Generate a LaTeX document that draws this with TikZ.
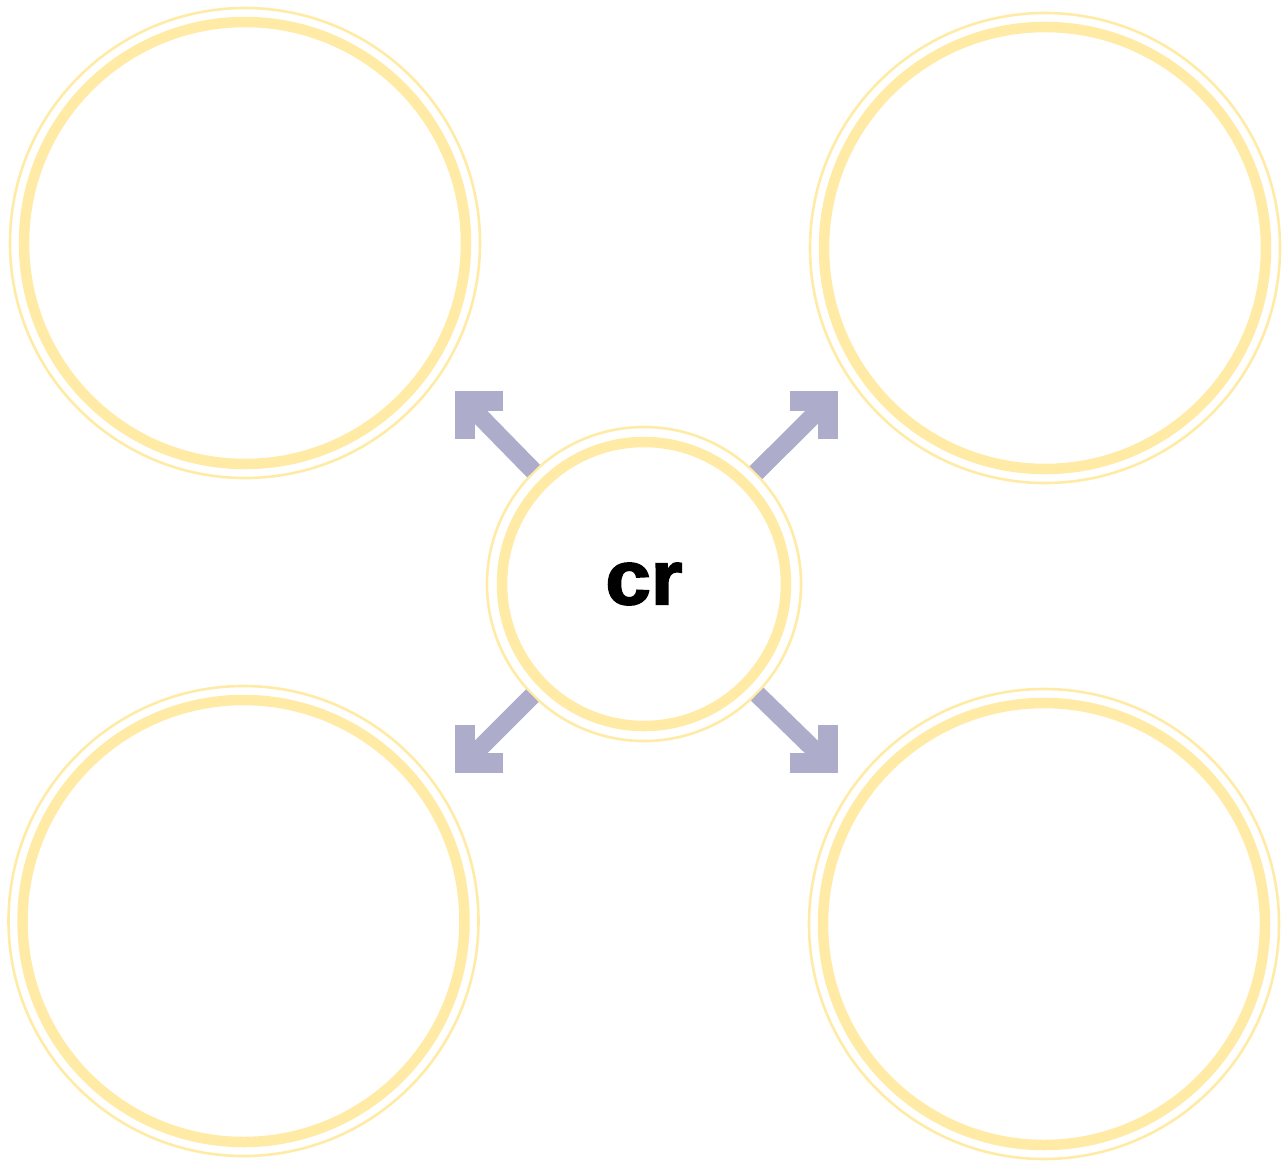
\documentclass[tikz,border=0pt]{standalone}
\usepackage{fontspec}
\setmainfont{Liberation Sans}
\newfontfamily\heavyfont[UprightFont={* Bold}, FakeBold=2.2]{Liberation Sans}
\usetikzlibrary{calc}
\definecolor{ringyellow}{HTML}{FFEBA6}
\definecolor{arrowlav}{HTML}{ADACCB}
\begin{document}
\begin{tikzpicture}[x=1pt,y=-1pt,
  bigring/.style={circle, draw=ringyellow, line width=10.5pt, fill=white, inner sep=0pt, minimum size=442pt},
  smallring/.style={circle, draw=ringyellow, line width=10.5pt, fill=white, inner sep=0pt, minimum size=284pt, outer sep=16pt},
  thinring/.style={draw=ringyellow, line width=2.6pt},
  shaft/.style={draw=arrowlav, line width=18pt, line cap=butt},
  headbar/.style={draw=arrowlav, line width=20pt, line cap=butt, line join=miter}
]
\useasboundingbox (0,0) rectangle (1288,1160);
% outer circles
\node[bigring] (tl) at (245,243) {};
\draw[thinring] (tl.center) circle (235);
\node[bigring] (tr) at (1045,248) {};
\draw[thinring] (tr.center) circle (235);
\node[bigring] (bl) at (243.5,921) {};
\draw[thinring] (bl.center) circle (235);
\node[bigring] (br) at (1044,924) {};
\draw[thinring] (br.center) circle (235);
% center circle
\node[smallring, font=\heavyfont\fontsize{77}{80}\selectfont] (c) at (644,584) {\scalebox{1.06}[1]{cr}};
\draw[thinring] (c.center) circle (157);
% arrow tips
\coordinate (tlt) at (455,391);
\coordinate (trt) at (838,391);
\coordinate (blt) at (455,773);
\coordinate (brt) at (838,773);
% arrows
\draw[shaft] (c) -- ([shift={(10,10)}]tlt);
\draw[headbar] ([shift={(48,10)}]tlt) -- ([shift={(10,10)}]tlt) -- ([shift={(10,48)}]tlt);
\draw[shaft] (c) -- ([shift={(-10,10)}]trt);
\draw[headbar] ([shift={(-48,10)}]trt) -- ([shift={(-10,10)}]trt) -- ([shift={(-10,48)}]trt);
\draw[shaft] (c) -- ([shift={(10,-10)}]blt);
\draw[headbar] ([shift={(48,-10)}]blt) -- ([shift={(10,-10)}]blt) -- ([shift={(10,-48)}]blt);
\draw[shaft] (c) -- ([shift={(-10,-10)}]brt);
\draw[headbar] ([shift={(-48,-10)}]brt) -- ([shift={(-10,-10)}]brt) -- ([shift={(-10,-48)}]brt);
\end{tikzpicture}
\end{document}
